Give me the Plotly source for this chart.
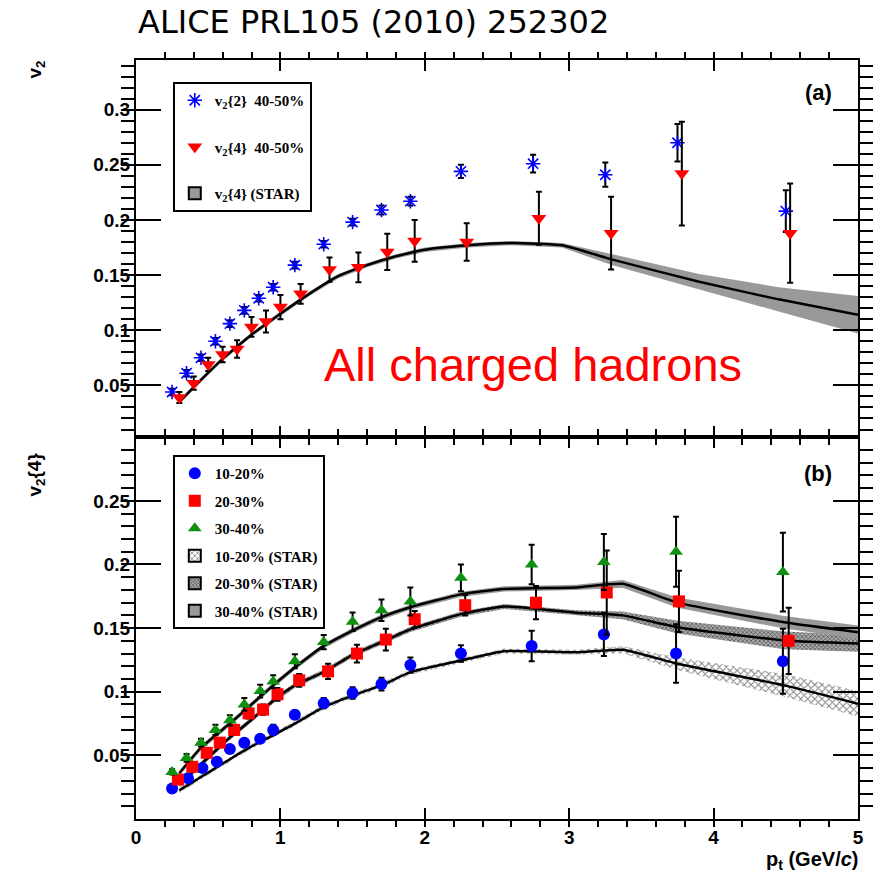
import plotly.graph_objects as go

# ---------------- data ----------------
# Panel (a): 40-50% centrality
pt_a_v22 = [0.25, 0.35, 0.45, 0.55, 0.65, 0.75, 0.85, 0.95, 1.10, 1.30, 1.50, 1.70, 1.90, 2.25, 2.75, 3.25, 3.75, 4.50]
v22_4050 = [0.044, 0.061, 0.075, 0.090, 0.106, 0.118, 0.129, 0.139, 0.159, 0.178, 0.198, 0.209, 0.217, 0.244, 0.251, 0.241, 0.270, 0.208]
v22_4050_err = [0.003, 0.003, 0.003, 0.003, 0.003, 0.003, 0.003, 0.003, 0.003, 0.003, 0.003, 0.004, 0.004, 0.006, 0.008, 0.011, 0.017, 0.019]

pt_a_v24 = [0.30, 0.40, 0.50, 0.60, 0.70, 0.80, 0.90, 1.00, 1.14, 1.34, 1.54, 1.74, 1.93, 2.29, 2.79, 3.29, 3.78, 4.53]
v24_4050 = [0.039, 0.052, 0.069, 0.078, 0.083, 0.103, 0.108, 0.121, 0.133, 0.155, 0.157, 0.171, 0.181, 0.180, 0.2015, 0.188, 0.242, 0.188]
v24_4050_err = [0.005, 0.006, 0.006, 0.007, 0.008, 0.009, 0.010, 0.011, 0.009, 0.011, 0.0135, 0.0165, 0.019, 0.017, 0.024, 0.033, 0.047, 0.045]

star_a_pt = [0.30, 0.45, 0.60, 0.80, 1.00, 1.20, 1.40, 1.60, 1.80, 2.00, 2.30, 2.60, 2.95, 3.30, 3.90, 4.45, 5.00]
star_a_v24 = [0.035, 0.055, 0.074, 0.096, 0.115, 0.133, 0.149, 0.159, 0.167, 0.173, 0.177, 0.179, 0.177, 0.164, 0.144, 0.128, 0.114]
star_a_err = [0.002, 0.002, 0.002, 0.002, 0.002, 0.002, 0.002, 0.002, 0.002, 0.002, 0.002, 0.002, 0.002, 0.005, 0.007, 0.011, 0.017]

# Panel (b): v2{4} for three centralities
pt_b_1020 = [0.25, 0.36, 0.46, 0.56, 0.65, 0.75, 0.86, 0.95, 1.10, 1.30, 1.50, 1.70, 1.90, 2.25, 2.74, 3.24, 3.74, 4.48]
v24_1020 = [0.024, 0.032, 0.040, 0.045, 0.055, 0.060, 0.063, 0.070, 0.082, 0.091, 0.099, 0.106, 0.121, 0.130, 0.136, 0.145, 0.130, 0.124]
v24_1020_err = [0.002, 0.002, 0.002, 0.002, 0.003, 0.003, 0.003, 0.004, 0.003, 0.004, 0.0045, 0.005, 0.006, 0.0065, 0.012, 0.017, 0.023, 0.0255]

pt_b_2030 = [0.29, 0.39, 0.49, 0.58, 0.68, 0.78, 0.88, 0.98, 1.13, 1.33, 1.53, 1.73, 1.93, 2.28, 2.77, 3.26, 3.76, 4.52]
v24_2030 = [0.031, 0.041, 0.052, 0.060, 0.070, 0.083, 0.086, 0.098, 0.109, 0.116, 0.130, 0.141, 0.157, 0.168, 0.170, 0.178, 0.171, 0.140]
v24_2030_err = [0.002, 0.003, 0.003, 0.003, 0.004, 0.004, 0.004, 0.005, 0.005, 0.006, 0.007, 0.0085, 0.0065, 0.008, 0.013, 0.033, 0.024, 0.026]

pt_b_3040 = [0.25, 0.35, 0.45, 0.55, 0.65, 0.75, 0.86, 0.95, 1.10, 1.30, 1.50, 1.70, 1.90, 2.25, 2.74, 3.24, 3.74, 4.48]
v24_3040 = [0.037, 0.048, 0.060, 0.070, 0.0775, 0.090, 0.1005, 0.108, 0.124, 0.139, 0.155, 0.164, 0.171, 0.1895, 0.200, 0.202, 0.210, 0.194]
v24_3040_err = [0.002, 0.003, 0.003, 0.004, 0.004, 0.005, 0.005, 0.005, 0.0055, 0.0056, 0.0072, 0.0085, 0.011, 0.0105, 0.0155, 0.022, 0.0275, 0.031]

star_b_pt = [0.30, 0.45, 0.65, 0.80, 0.95, 1.10, 1.30, 1.50, 1.70, 1.90, 2.25, 2.55, 3.05, 3.37, 3.75, 4.49, 5.00]
star_1020 = [0.0225, 0.033, 0.047, 0.057, 0.0657, 0.075, 0.0879, 0.097, 0.105, 0.1154, 0.1246, 0.1319, 0.131, 0.133, 0.122, 0.105, 0.0906]
star_1020_err = [0.002, 0.002, 0.002, 0.002, 0.002, 0.002, 0.002, 0.002, 0.002, 0.002, 0.002, 0.002, 0.002, 0.003, 0.005, 0.009, 0.010]
star_2030 = [0.027, 0.043, 0.064, 0.078, 0.093, 0.105, 0.1155, 0.129, 0.139, 0.149, 0.161, 0.167, 0.162, 0.160, 0.1507, 0.1403, 0.138]
star_2030_err = [0.002, 0.002, 0.002, 0.002, 0.002, 0.002, 0.002, 0.002, 0.002, 0.002, 0.002, 0.002, 0.002, 0.003, 0.005, 0.007, 0.0065]
star_3040 = [0.036, 0.056, 0.075, 0.090, 0.105, 0.119, 0.136, 0.148, 0.1586, 0.1664, 0.1765, 0.1808, 0.182, 0.1848, 0.170, 0.1546, 0.1468]
star_3040_err = [0.002, 0.002, 0.002, 0.002, 0.002, 0.002, 0.002, 0.002, 0.002, 0.002, 0.002, 0.002, 0.002, 0.003, 0.004, 0.005, 0.0052]

x_ticks = [0, 1, 2, 3, 4, 5]
y_ticks_a = [0.05, 0.1, 0.15, 0.2, 0.25, 0.3]
y_ticks_b = [0.05, 0.1, 0.15, 0.2, 0.25]

# ---------------- helpers ----------------
W, H = 876, 874
ML, MR, MT, MB = 136, 14, 60, 55
PW, PH = W - ML - MR, H - MT - MB


def px(xpix):
    return (xpix - ML) / PW


def py(ypix):
    return (H - MB - ypix) / PH


def band(xs, c, e):
    up = [a + b for a, b in zip(c, e)]
    lo = [a - b for a, b in zip(c, e)]
    return xs + xs[::-1], up + lo[::-1]


fig = go.Figure()

LEGFONT = dict(family="Liberation Serif", size=15, color="black", weight="bold")
ERR = dict(color="black", thickness=2, width=3)
HATCH1 = dict(shape="x", fgcolor="black", bgcolor="white", size=5, solidity=0.35)
HATCH2 = dict(shape="x", fgcolor="black", bgcolor="#aaaaaa", size=3, solidity=0.45)
GRAY = "#999999"

# ---------- panel (a) ----------
bx, by = band(star_a_pt, star_a_v24, star_a_err)
fig.add_trace(go.Scatter(x=bx, y=by, xaxis="x2", yaxis="y2", fill="toself",
                         fillcolor=GRAY, line=dict(width=0), mode="lines",
                         showlegend=False, hoverinfo="skip"))
fig.add_trace(go.Scatter(x=star_a_pt, y=star_a_v24, xaxis="x2", yaxis="y2", mode="lines",
                         line=dict(color="black", width=2.5, shape="spline", smoothing=0.5),
                         showlegend=False))
fig.add_trace(go.Scatter(x=pt_a_v22, y=v22_4050, xaxis="x2", yaxis="y2", mode="markers",
                         name="v<sub>2</sub>{2}  40-50%", legend="legend", legendgroup="a1",
                         marker=dict(symbol="asterisk-open", size=12, color="blue",
                                     line=dict(color="blue", width=1.6)),
                         error_y=dict(type="data", array=v22_4050_err, **ERR)))
fig.add_trace(go.Scatter(x=pt_a_v24, y=v24_4050, xaxis="x2", yaxis="y2", mode="markers",
                         name="v<sub>2</sub>{4}  40-50%", legend="legend", legendgroup="a2",
                         marker=dict(symbol="triangle-down", size=13, color="red"),
                         error_y=dict(type="data", array=v24_4050_err, **ERR)))
fig.add_trace(go.Bar(x=[None], y=[None], xaxis="x2", yaxis="y2",
                     marker=dict(color=GRAY, line=dict(color="black", width=2)),
                     name="v<sub>2</sub>{4} (STAR)", legend="legend", legendgroup="a3"))

# ---------- panel (b) ----------
bx, by = band(star_b_pt, star_1020, star_1020_err)
fig.add_trace(go.Scatter(x=bx, y=by, fill="toself", mode="lines", line=dict(width=0),
                         fillcolor="rgba(255,255,255,0)", fillpattern=HATCH1,
                         showlegend=False, hoverinfo="skip"))
bx, by = band(star_b_pt, star_2030, star_2030_err)
fig.add_trace(go.Scatter(x=bx, y=by, fill="toself", mode="lines", line=dict(width=0),
                         fillcolor="rgba(255,255,255,0)", fillpattern=HATCH2,
                         showlegend=False, hoverinfo="skip"))
bx, by = band(star_b_pt, star_3040, star_3040_err)
fig.add_trace(go.Scatter(x=bx, y=by, fill="toself", mode="lines", line=dict(width=0),
                         fillcolor=GRAY, showlegend=False, hoverinfo="skip"))
for c in (star_1020, star_2030, star_3040):
    fig.add_trace(go.Scatter(x=star_b_pt, y=c, mode="lines",
                             line=dict(color="black", width=2.5, shape="spline", smoothing=0.5),
                             showlegend=False))

fig.add_trace(go.Scatter(x=pt_b_1020, y=v24_1020, mode="markers", name="10-20%",
                         legend="legend2", legendgroup="b1",
                         marker=dict(symbol="circle", size=12, color="blue"),
                         error_y=dict(type="data", array=v24_1020_err, **ERR)))
fig.add_trace(go.Scatter(x=pt_b_2030, y=v24_2030, mode="markers", name="20-30%",
                         legend="legend2", legendgroup="b2",
                         marker=dict(symbol="square", size=12, color="red"),
                         error_y=dict(type="data", array=v24_2030_err, **ERR)))
fig.add_trace(go.Scatter(x=pt_b_3040, y=v24_3040, mode="markers", name="30-40%",
                         legend="legend2", legendgroup="b3",
                         marker=dict(symbol="triangle-up", size=12, color="#109010"),
                         error_y=dict(type="data", array=v24_3040_err, **ERR)))
fig.add_trace(go.Bar(x=[None], y=[None],
                     marker=dict(color="white", pattern=HATCH1, line=dict(color="black", width=2)),
                     name="10-20% (STAR)", legend="legend2", legendgroup="b4"))
fig.add_trace(go.Bar(x=[None], y=[None],
                     marker=dict(color="#aaaaaa", pattern=HATCH2, line=dict(color="black", width=2)),
                     name="20-30% (STAR)", legend="legend2", legendgroup="b5"))
fig.add_trace(go.Bar(x=[None], y=[None],
                     marker=dict(color=GRAY, line=dict(color="black", width=2)),
                     name="30-40% (STAR)", legend="legend2", legendgroup="b6"))

# ---------------- axes ----------------
TICKFONT = dict(family="Liberation Sans", size=19, color="black", weight="bold")
xcommon = dict(range=[0, 5.0], showline=True, linewidth=2, linecolor="black", mirror="allticks",
               ticks="inside", ticklen=11, tickwidth=2, tickcolor="black",
               tickvals=x_ticks, showgrid=False, zeroline=False,
               minor=dict(tickmode="linear", tick0=0, dtick=0.2, ticklen=6, tickwidth=1.5,
                          tickcolor="black", showgrid=False))
ycommon = dict(showline=True, linewidth=2, linecolor="black", mirror="allticks",
               ticks="inside", ticklen=25, tickwidth=2, tickcolor="black",
               showgrid=False, zeroline=False, tickfont=TICKFONT,
               minor=dict(tickmode="linear", tick0=0, dtick=0.01, ticklen=13, tickwidth=1.5,
                          tickcolor="black", showgrid=False))

fig.update_layout(
    width=W, height=H,
    margin=dict(l=ML, r=MR, t=MT, b=MB),
    paper_bgcolor="white", plot_bgcolor="white",
    xaxis=dict(domain=[0, 1], anchor="y", tickfont=TICKFONT, **xcommon),
    yaxis=dict(domain=[0, 0.503], anchor="x", range=[0, 0.30], tickvals=y_ticks_b, **ycommon),
    xaxis2=dict(domain=[0, 1], anchor="y2", showticklabels=False, **xcommon),
    yaxis2=dict(domain=[0.503, 1], anchor="x2", range=[0.003, 0.345], tickvals=y_ticks_a, **ycommon),
    legend=dict(x=px(173), y=py(82), xanchor="left", yanchor="top", bgcolor="white",
                bordercolor="black", borderwidth=2, font=LEGFONT, traceorder="grouped",
                tracegroupgap=24),
    legend2=dict(x=px(173), y=py(455), xanchor="left", yanchor="top", bgcolor="white",
                 bordercolor="black", borderwidth=2, font=LEGFONT, traceorder="grouped",
                 tracegroupgap=5),
    showlegend=True,
)

ann = [
    dict(text="ALICE PRL105 (2010) 252302", x=px(136), y=py(22), xanchor="left", yanchor="middle",
         font=dict(family="DejaVu Sans", size=32, color="black")),
    dict(text="All charged hadrons", x=px(535), y=py(364), xanchor="center", yanchor="middle",
         font=dict(family="Liberation Sans", size=47, color="red")),
    dict(text="(a)", x=px(838), y=py(93), xanchor="right", yanchor="middle",
         font=dict(family="Liberation Sans", size=22, color="black", weight="bold")),
    dict(text="(b)", x=px(838), y=py(473), xanchor="right", yanchor="middle",
         font=dict(family="Liberation Sans", size=22, color="black", weight="bold")),
    dict(text="v<sub>2</sub>", x=px(35), y=py(70), xanchor="center", yanchor="middle", textangle=-90,
         font=dict(family="Liberation Sans", size=19, color="black", weight="bold")),
    dict(text="v<sub>2</sub>{4}", x=px(35), y=py(475), xanchor="center", yanchor="middle", textangle=-90,
         font=dict(family="Liberation Sans", size=19, color="black", weight="bold")),
    dict(text="p<sub>t</sub> (GeV/<i>c</i>)", x=px(864), y=py(860), xanchor="right", yanchor="middle",
         font=dict(family="Liberation Sans", size=20, color="black", weight="bold")),
]
for a in ann:
    a.update(xref="paper", yref="paper", showarrow=False)
fig.update_layout(annotations=ann)

fig.write_html("out.html", config={"displayModeBar": False},
               post_script="document.body.style.margin='0';")
